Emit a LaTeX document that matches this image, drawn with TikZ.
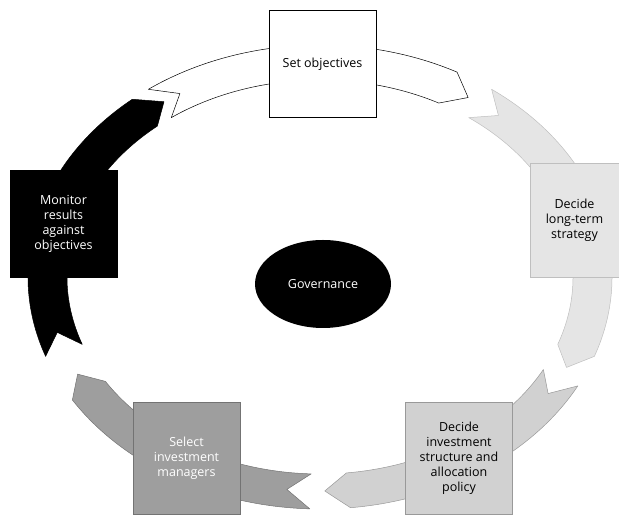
\documentclass[tikz,border=0pt]{standalone}
\usepackage{fontspec}
\setmainfont{Open Sans}
\usetikzlibrary{shapes.geometric}

% one band of the cycle: #1 colours, #2 tail angle, #3 head angle
\newcommand{\ribbonpiece}[3]{%
  \path[myribbon, #1] (#2:292pt and 232pt)
    arc[start angle=#2, end angle=#3, x radius=292pt, y radius=232pt]
    -- (#3-5:272pt and 214pt)
    -- (#3:253pt and 197pt)
    arc[start angle=#3, end angle=#2, x radius=253pt, y radius=197pt]
    -- (#2-5:272pt and 214pt) -- cycle;}

\begin{document}
\begin{tikzpicture}[
    x=1pt, y=1pt,
    font=\fontsize{12.5}{15}\selectfont,
    mybox/.style={draw, minimum width=107pt, minimum height=107pt, align=center, inner sep=1pt},
    myribbon/.style={line width=0.5pt, line join=round},
    mycore/.style={ellipse, fill=black, text=white, minimum width=136pt, minimum height=88pt}
]
\useasboundingbox (0,0) rectangle (619,516);

\begin{scope}[shift={(320,239)}]
\ribbonpiece{fill=white, draw=black}{126}{62}
\ribbonpiece{fill=black!10, draw=black!25}{54}{-20}
\ribbonpiece{fill=black!18, draw=black!40}{-28}{-84}
\ribbonpiece{fill=black!38, draw=black!55}{-92}{-148}
\ribbonpiece{fill=black, draw=black}{200}{130}
\end{scope}

\node[mybox, fill=white] (set) at (322.5,452) {Set objectives};
\node[mybox, fill=black!10, draw=black!25, minimum width=89pt, minimum height=114pt] (strategy) at (574.5,296) {Decide\\long-term\\strategy};
\node[mybox, fill=black!18, draw=black!40, minimum height=112pt] (structure) at (459,58) {Decide\\investment\\structure and\\allocation\\policy};
\node[mybox, fill=black!38, draw=black!55, text=white, minimum height=112pt] (select) at (186.5,58) {Select\\investment\\managers};
\node[mybox, fill=black, text=white] (monitor) at (63.5,292.5) {Monitor\\results\\against\\objectives};

\node[mycore] (gov) at (323,232) {Governance};
\end{tikzpicture}
\end{document}
